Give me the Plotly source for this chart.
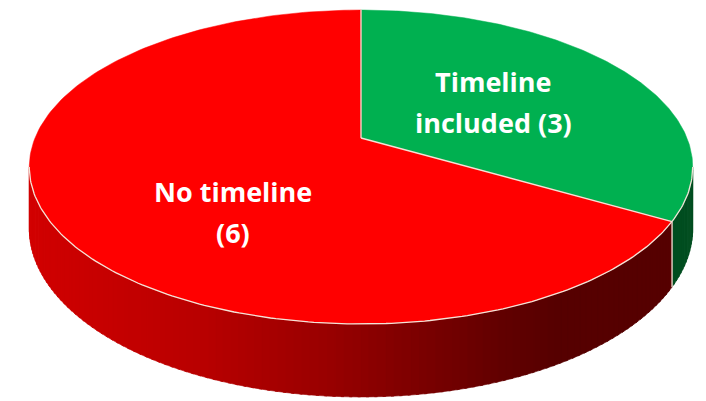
import numpy as np
import plotly.graph_objects as go

# ---- data ----
categories = ["Timeline included", "No timeline"]
values = [3, 6]
labels = ["Timeline<br>included (3)", "No timeline<br>(6)"]

# ---- style ----
top_colors = ["#00B050", "#FF0000"]
wall_green = (0, 78, 32)
edge_color = "#F3E4D8"
W, H = 706, 401
PAGE_MARGIN = 8  # default body margin of the html page

# perspective projection of the pie (unit circle in plane, Z = far)
CX, CY = 361.0, 138.0
PSP = 0.1847
BY = 151.6
CXR = 326.0
DEPTH = 59.5


def proj(X, Z, drop=0.0):
    d = 1.0 + PSP * Z
    return CX + CXR * X / d, CY + (-BY * Z + drop) / d


def ang_pts(a0, a1, n, r=1.0, drop=0.0):
    t = np.radians(np.linspace(a0, a1, n))
    return proj(r * np.sin(t), r * np.cos(t), drop)


def red_wall_color(x):
    xs = [28, 200, 330, 500, 560, 700]
    rs = [210, 185, 152, 98, 86, 86]
    r = float(np.interp(x, xs, rs))
    return f"rgb({int(r)},0,0)"


total = sum(values)
bounds = [0.0]
for v in values:
    bounds.append(bounds[-1] + 360.0 * v / total)

# visible wall range (silhouette extremes)
th_r = np.degrees(np.arccos(-PSP))          # right extreme
th_l = 360.0 - th_r                          # left extreme

fig = go.Figure()

# ---- side walls ----
for i in range(len(values)):
    a0, a1 = bounds[i], bounds[i + 1]
    lo, hi = max(a0, th_r), min(a1, th_l)
    if hi <= lo:
        continue
    nstrips = max(2, int((hi - lo) / 1.2))
    edges = np.linspace(lo, hi, nstrips + 1)
    for k in range(nstrips):
        s0, s1 = edges[k], min(edges[k + 1] + 0.4, hi)
        tx, ty = ang_pts(s0, s1, 6)
        bx, by = ang_pts(s0, s1, 6, drop=DEPTH)
        xs = list(tx) + list(bx[::-1]) + [tx[0]]
        ys = list(ty) + list(by[::-1]) + [ty[0]]
        if i == 0:
            col = "rgb(%d,%d,%d)" % wall_green
        else:
            col = red_wall_color(float(np.mean(tx)))
        fig.add_trace(go.Scatter(x=xs, y=ys, mode="lines", fill="toself",
                                 fillcolor=col, line=dict(color=col, width=0.6),
                                 hoverinfo="skip", showlegend=False))

# separation lines on the wall
for b in bounds[1:-1]:
    if th_r <= b <= th_l:
        x0, y0 = proj(np.sin(np.radians(b)), np.cos(np.radians(b)))
        x1, y1 = proj(np.sin(np.radians(b)), np.cos(np.radians(b)), DEPTH)
        fig.add_trace(go.Scatter(x=[x0, x1], y=[y0, y1], mode="lines",
                                 line=dict(color=edge_color, width=1.3),
                                 hoverinfo="skip", showlegend=False))

# ---- top faces ----
for i in range(len(values)):
    a0, a1 = bounds[i], bounds[i + 1]
    ax, ay = ang_pts(a0, a1, 200)
    xs = [CX] + list(ax) + [CX]
    ys = [CY] + list(ay) + [CY]
    fig.add_trace(go.Scatter(x=xs, y=ys, mode="lines", fill="toself",
                             fillcolor=top_colors[i],
                             line=dict(color=top_colors[i], width=0.5),
                             name=categories[i], hoverinfo="skip",
                             showlegend=False))

# edges on top: radial separators and front rim
for b in bounds[:-1]:
    ex, ey = proj(np.sin(np.radians(b)), np.cos(np.radians(b)))
    fig.add_trace(go.Scatter(x=[CX, ex], y=[CY, ey], mode="lines",
                             line=dict(color=edge_color, width=1.3),
                             hoverinfo="skip", showlegend=False))
rx, ry = ang_pts(th_r, th_l, 200)
fig.add_trace(go.Scatter(x=rx, y=ry, mode="lines",
                         line=dict(color=edge_color, width=1.3),
                         hoverinfo="skip", showlegend=False))

# ---- labels ----
label_r = [0.5, 0.5]
label_off = [(-2, 0), (20, 34)]
line_gap = 41
for i in range(len(values)):
    mid = np.radians((bounds[i] + bounds[i + 1]) / 2)
    lx, ly = proj(label_r[i] * np.sin(mid), label_r[i] * np.cos(mid))
    lx += label_off[i][0]
    ly += label_off[i][1]
    lines = labels[i].split("<br>")
    n = len(lines)
    for j, t in enumerate(lines):
        yy = ly + (j - (n - 1) / 2) * line_gap
        fig.add_annotation(x=lx, y=yy, text=t, showarrow=False,
                           font=dict(family="Open Sans", size=27, color="white",
                                     weight="bold"),
                           xanchor="center", yanchor="middle")

fig.update_layout(
    width=W - PAGE_MARGIN, height=H - PAGE_MARGIN,
    margin=dict(l=0, r=0, t=0, b=0),
    paper_bgcolor="white", plot_bgcolor="white",
    xaxis=dict(range=[PAGE_MARGIN, W], visible=False, fixedrange=True),
    yaxis=dict(range=[H, PAGE_MARGIN], visible=False, fixedrange=True),
    showlegend=False,
)

fig.write_html("out.html")
